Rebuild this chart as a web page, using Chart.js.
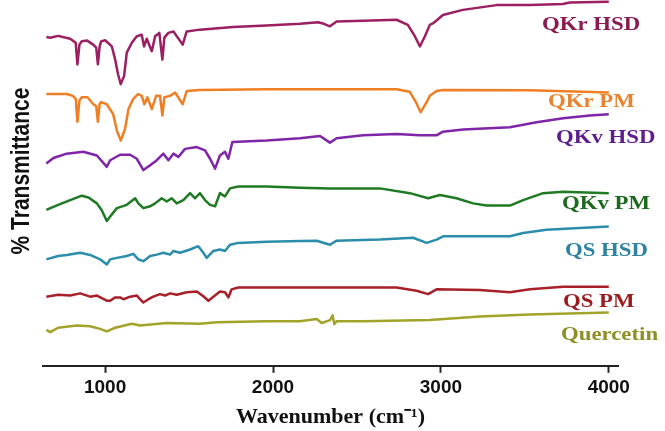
<!DOCTYPE html>
<html>
<head>
<meta charset="utf-8">
<script src="https://cdn.jsdelivr.net/npm/chart.js@4.4.1/dist/chart.umd.min.js"></script>
<style>
  html, body { margin: 0; padding: 0; background: #fff; }
  #chart { display: block; }
</style>
</head>
<body>
<canvas id="chart" width="665" height="431"></canvas>
<script>
// FTIR 光譜資料（波數 cm-1 與相對穿透率，各曲線已垂直錯開）
const qkrHsdWn = [650, 673, 720, 792, 825, 835, 847, 861, 893, 929, 947, 957, 967, 976, 1000, 1040, 1060, 1077, 1093, 1113, 1129, 1159, 1189, 1218, 1232, 1248, 1278, 1298, 1323, 1341, 1353, 1377, 1407, 1462, 1486, 1565, 1762, 1962, 2161, 2268, 2303, 2339, 2379, 2537, 2736, 2803, 2845, 2875, 2905, 2934, 2952, 2974, 3012, 3131, 3331, 3530, 3726, 3768, 4000];
const qkrHsdT = [89.9, 89.7, 90.2, 89.4, 88.3, 82.4, 87.8, 88.7, 88.9, 87.8, 87.0, 82.4, 87.2, 88.7, 89.0, 87.3, 83.7, 79.7, 77.0, 79.2, 85.6, 88.3, 90.1, 90.5, 87.3, 89.4, 86.0, 90.1, 91.0, 83.7, 89.7, 91.0, 91.4, 87.8, 91.4, 91.9, 92.6, 93.0, 93.5, 93.9, 93.5, 92.8, 94.1, 94.3, 94.6, 93.2, 90.1, 87.3, 90.1, 93.2, 93.6, 94.4, 95.9, 97.3, 98.6, 98.6, 98.9, 99.3, 99.5];

const qkrPmWn = [650, 772, 808, 825, 835, 847, 861, 895, 930, 947, 957, 967, 976, 1010, 1048, 1070, 1093, 1119, 1139, 1167, 1196, 1218, 1234, 1252, 1278, 1304, 1327, 1341, 1353, 1387, 1417, 1462, 1486, 1565, 1962, 2339, 2736, 2815, 2851, 2879, 2915, 2934, 2974, 3012, 3530, 4000];
const qkrPmT = [74.3, 74.3, 73.8, 73.0, 66.7, 72.5, 73.4, 73.4, 71.5, 71.0, 66.7, 71.5, 72.1, 71.5, 68.8, 64.3, 61.6, 64.8, 70.2, 72.9, 74.3, 73.8, 71.5, 73.4, 70.2, 73.8, 73.8, 68.4, 73.4, 73.8, 74.7, 71.5, 75.1, 75.4, 75.6, 75.6, 75.6, 74.9, 72.1, 69.3, 72.1, 73.8, 75.1, 75.4, 75.3, 74.7];

const qkvHsdWn = [650, 692, 771, 870, 951, 1010, 1030, 1089, 1149, 1189, 1228, 1268, 1308, 1347, 1377, 1407, 1436, 1476, 1546, 1595, 1625, 1655, 1684, 1714, 1734, 1758, 1962, 2161, 2280, 2339, 2379, 2537, 2736, 2875, 2974, 3012, 3133, 3411, 3570, 3728, 3887, 4000];
const qkvHsdT = [55.3, 56.8, 58.0, 58.5, 57.5, 54.4, 56.2, 57.7, 57.7, 56.6, 53.5, 54.8, 56.2, 58.0, 56.2, 58.0, 57.1, 59.3, 59.8, 58.9, 56.6, 53.9, 57.5, 58.5, 56.6, 61.2, 61.6, 62.2, 62.8, 61.0, 62.2, 63.0, 63.4, 63.0, 63.0, 64.0, 64.6, 65.2, 66.6, 67.7, 68.4, 68.8];

const qkvPmWn = [650, 720, 792, 861, 901, 951, 980, 1010, 1030, 1070, 1129, 1179, 1198, 1228, 1268, 1298, 1337, 1367, 1397, 1427, 1466, 1506, 1536, 1565, 1595, 1625, 1655, 1684, 1714, 1744, 1793, 1962, 2161, 2339, 2637, 2815, 2924, 2994, 3093, 3192, 3272, 3411, 3490, 3609, 3728, 4000];
const qkvPmT = [42.6, 44.0, 45.3, 46.5, 46.0, 44.4, 42.5, 39.6, 40.8, 43.1, 44.0, 45.8, 44.4, 43.1, 43.6, 44.4, 45.8, 44.9, 45.8, 44.4, 45.3, 47.2, 45.8, 47.2, 45.3, 44.0, 43.6, 47.2, 46.3, 48.5, 49.0, 49.0, 48.7, 48.5, 48.5, 47.2, 45.8, 46.7, 45.8, 44.4, 43.8, 43.8, 45.3, 47.2, 47.6, 47.2];

const qsHsdWn = [650, 720, 772, 851, 911, 970, 1010, 1030, 1070, 1129, 1168, 1198, 1228, 1268, 1308, 1347, 1387, 1407, 1446, 1506, 1555, 1585, 1605, 1645, 1684, 1714, 1744, 1793, 1962, 2161, 2260, 2339, 2379, 2637, 2835, 2915, 2974, 3014, 3411, 3490, 3629, 3827, 4000];
const qsHsdT = [29.1, 30.0, 30.3, 30.9, 30.3, 29.1, 27.7, 29.1, 29.5, 30.0, 30.6, 29.1, 28.6, 30.0, 30.4, 30.9, 30.4, 31.4, 30.9, 31.8, 32.7, 30.9, 29.5, 31.4, 31.8, 31.4, 33.1, 33.6, 33.9, 34.1, 34.2, 33.1, 34.2, 34.5, 35.0, 33.6, 34.5, 35.4, 35.4, 36.3, 37.2, 37.7, 38.1];

const qsPmWn = [650, 720, 792, 851, 911, 951, 1010, 1030, 1060, 1089, 1109, 1149, 1189, 1208, 1228, 1258, 1287, 1327, 1357, 1387, 1427, 1486, 1546, 1585, 1615, 1645, 1684, 1714, 1734, 1754, 1793, 1962, 2339, 2736, 2855, 2924, 2974, 3232, 3411, 3530, 3728, 4000];
const qsPmT = [18.9, 19.4, 19.2, 19.8, 18.9, 19.2, 17.8, 17.8, 18.7, 18.7, 18.2, 18.9, 19.2, 18.2, 17.3, 18.2, 18.9, 19.6, 19.2, 19.8, 19.4, 20.1, 20.3, 19.0, 17.8, 18.9, 20.3, 20.1, 18.7, 20.9, 21.4, 21.4, 21.4, 21.4, 20.5, 19.6, 20.9, 20.7, 20.1, 20.9, 21.6, 21.6];

const quercetinWn = [650, 673, 720, 831, 911, 970, 1010, 1060, 1159, 1208, 1367, 1565, 1665, 1962, 2161, 2260, 2290, 2340, 2355, 2365, 2380, 2537, 2934, 3232, 3530, 4000];
const quercetinT = [9.8, 9.2, 10.4, 11.0, 10.8, 10.1, 9.4, 10.4, 11.5, 11.0, 11.7, 11.5, 11.9, 12.2, 12.2, 12.8, 11.7, 12.5, 13.8, 11.4, 12.2, 12.2, 12.5, 13.5, 14.0, 14.6];

const seriesNames = ["QKr HSD", "QKr PM", "QKv HSD", "QKv PM", "QS HSD", "QS PM", "Quercetin"];
const xTicks = [1000, 2000, 3000, 4000];

// 樣式與版面
const lineColors = ["#9b1f62", "#ef7f24", "#7f25a8", "#1f7a23", "#2b8dab", "#a8202a", "#a3a32a"];
const labelColors = ["#8a1a50", "#e8832e", "#5f1d8e", "#1d6a1f", "#2d83a0", "#9b1b1f", "#8f8f26"];
const labelPos = [[542, 25], [548, 102], [556, 138], [562, 204], [565, 251], [563, 302], [561, 335]];

const series = [
  [qkrHsdWn, qkrHsdT],
  [qkrPmWn, qkrPmT],
  [qkvHsdWn, qkvHsdT],
  [qkvPmWn, qkvPmT],
  [qsHsdWn, qsHsdT],
  [qsPmWn, qsPmT],
  [quercetinWn, quercetinT],
];

const datasets = series.map(([wn, t], i) => ({
  label: seriesNames[i],
  data: wn.map((x, j) => ({ x, y: t[j] })),
  borderColor: lineColors[i],
  borderWidth: 2.5,
  borderJoinStyle: "round",
  pointRadius: 0,
  tension: 0,
  fill: false,
  clip: false,
}));

// 曲線名稱與 y 軸標題（原圖文字橫向略為拉寬）
const sideText = {
  id: "sideText",
  afterDatasetsDraw(chart) {
    const ctx = chart.ctx;
    ctx.save();
    ctx.font = "bold 19px 'Liberation Serif', 'Times New Roman', serif";
    ctx.textBaseline = "middle";
    ctx.textAlign = "left";
    chart.data.datasets.forEach((ds, i) => {
      const [x, y] = labelPos[i];
      ctx.save();
      ctx.translate(x, y);
      ctx.scale(1.2, 1);
      ctx.fillStyle = labelColors[i];
      ctx.fillText(ds.label, 0, 0);
      ctx.restore();
    });

    ctx.translate(22, 171);
    ctx.rotate(-Math.PI / 2);
    ctx.scale(1, 1.2);
    ctx.font = "bold 21px 'Liberation Sans', Arial, sans-serif";
    ctx.textAlign = "center";
    ctx.fillStyle = "#111";
    ctx.fillText("% Transmittance", 0, 0);
    ctx.restore();
  },
};

const chart = document.querySelector("#chart").getContext("2d");

new Chart(chart, {
  type: "line",
  data: { datasets },
  options: {
    responsive: false,
    animation: false,
    layout: { padding: { left: 43, right: 47, top: 0, bottom: 0 } },
    plugins: {
      legend: { display: false },
      tooltip: { enabled: false },
    },
    scales: {
      x: {
        type: "linear",
        min: 630,
        max: 4055,
        afterBuildTicks: (scale) => {
          scale.ticks = xTicks.map((v) => ({ value: v }));
        },
        grid: {
          drawOnChartArea: false,
          drawTicks: true,
          tickLength: 7,
          tickWidth: 2,
          tickColor: "#222",
        },
        border: { display: true, color: "#222", width: 2 },
        ticks: {
          color: "#111",
          padding: 4,
          maxRotation: 0,
          font: { family: "'Liberation Sans', Arial, sans-serif", size: 19, weight: "bold" },
          callback: (v) => String(v),
        },
        title: {
          display: true,
          text: "Wavenumber (cm⁻¹)",
          color: "#111",
          padding: { top: 1, bottom: 0 },
          font: { family: "'Liberation Serif', 'Times New Roman', serif", size: 22, weight: "bold" },
        },
      },
      y: { display: false, min: 0, max: 100 },
    },
  },
  plugins: [sideText],
});
</script>
</body>
</html>
